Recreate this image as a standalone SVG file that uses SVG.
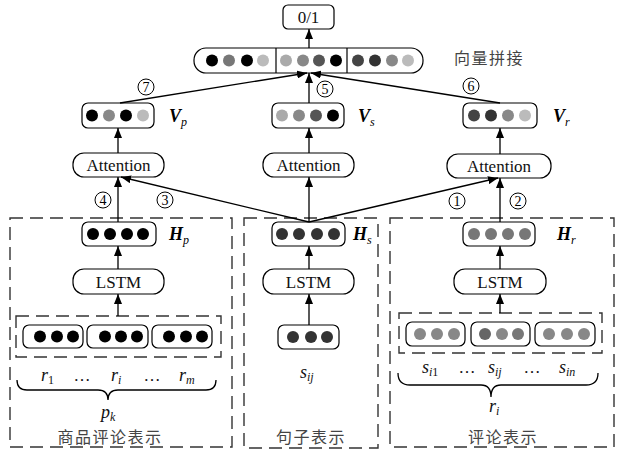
<svg xmlns="http://www.w3.org/2000/svg" width="617" height="455" viewBox="0 0 617 455">
  <style>
    .box { fill: #fff; stroke: #000; stroke-width: 1.2; }
    .dash { fill: none; stroke: #333; stroke-width: 1.4; stroke-dasharray: 13 7; }
    .lbl { font-family: "Liberation Serif", serif; font-size: 17px; fill: #111; text-anchor: middle; }
    .num { font-family: "Liberation Serif", serif; font-size: 14px; fill: #000; text-anchor: middle; }
    .var { font-family: "Liberation Serif", serif; font-size: 18px; font-style: italic; fill: #111; }
    .vec { font-family: "Liberation Serif", serif; font-size: 18px; font-style: italic; font-weight: bold; fill: #000; }
    .cn { font-family: "Noto Sans CJK SC", sans-serif; font-size: 16px; fill: #444; text-anchor: middle; letter-spacing: 1.5px; }
    .conn line { stroke: #000; stroke-width: 1.3; marker-end: url(#arr); }
    .ring { fill: #fff; stroke: #000; stroke-width: 1; }
    .brace { fill: none; stroke: #000; stroke-width: 1.3; }
  </style>
  <defs>
    <marker id="arr" viewBox="0 0 10 8" refX="10" refY="4" markerWidth="10" markerHeight="8" markerUnits="userSpaceOnUse" orient="auto">
      <path d="M0,0 L10,4 L0,8 Z" fill="#000"/>
    </marker>
  </defs>

  <!-- output -->
  <g id="output">
    <rect class="box" x="283" y="5" width="51" height="24" rx="5"/>
    <text class="lbl" x="308.5" y="23">0/1</text>
  </g>

  <!-- concatenated vector -->
  <g id="concat">
    <rect class="box" x="194" y="48" width="229" height="25" rx="12"/>
    <line x1="276" y1="48" x2="276" y2="73" stroke="#000" stroke-width="1.2"/>
    <line x1="347" y1="48" x2="347" y2="73" stroke="#000" stroke-width="1.2"/>
    <circle cx="212" cy="60.5" r="6" fill="#000"/>
    <circle cx="229" cy="60.5" r="6" fill="#777"/>
    <circle cx="247" cy="60.5" r="6" fill="#000"/>
    <circle cx="263" cy="60.5" r="6" fill="#bbb"/>
    <circle cx="286" cy="60.5" r="6" fill="#aaa"/>
    <circle cx="303" cy="60.5" r="6" fill="#888"/>
    <circle cx="319" cy="60.5" r="6" fill="#555"/>
    <circle cx="336" cy="60.5" r="6" fill="#000"/>
    <circle cx="358" cy="60.5" r="6" fill="#444"/>
    <circle cx="375" cy="60.5" r="6" fill="#333"/>
    <circle cx="392" cy="60.5" r="6" fill="#888"/>
    <circle cx="408" cy="60.5" r="6" fill="#bbb"/>
    <text class="cn" x="489" y="64">向量拼接</text>
  </g>

  <!-- attention vectors -->
  <g id="vp">
    <rect class="box" x="82" y="103" width="72" height="25" rx="6"/>
    <circle cx="92" cy="115.5" r="6" fill="#000"/>
    <circle cx="109" cy="115.5" r="6" fill="#888"/>
    <circle cx="126" cy="115.5" r="6" fill="#000"/>
    <circle cx="143" cy="115.5" r="6" fill="#bbb"/>
    <text class="vec" x="169" y="122">V<tspan font-size="12" font-weight="normal" dy="4">p</tspan></text>
  </g>
  <g id="vs">
    <rect class="box" x="272" y="103" width="72" height="25" rx="6"/>
    <circle cx="282" cy="115.5" r="6" fill="#aaa"/>
    <circle cx="299" cy="115.5" r="6" fill="#888"/>
    <circle cx="316" cy="115.5" r="6" fill="#555"/>
    <circle cx="333" cy="115.5" r="6" fill="#000"/>
    <text class="vec" x="358" y="122">V<tspan font-size="12" font-weight="normal" dy="4">s</tspan></text>
  </g>
  <g id="vr">
    <rect class="box" x="463" y="103" width="74" height="25" rx="6"/>
    <circle cx="474" cy="115.5" r="6" fill="#444"/>
    <circle cx="491" cy="115.5" r="6" fill="#333"/>
    <circle cx="508" cy="115.5" r="6" fill="#888"/>
    <circle cx="525" cy="115.5" r="6" fill="#bbb"/>
    <text class="vec" x="553" y="122">V<tspan font-size="12" font-weight="normal" dy="4">r</tspan></text>
  </g>

  <!-- attention layers -->
  <g id="att-p">
    <rect class="box" x="73" y="153" width="91" height="24" rx="11"/>
    <text class="lbl" x="118.5" y="171">Attention</text>
  </g>
  <g id="att-s">
    <rect class="box" x="263" y="153" width="91" height="24" rx="11"/>
    <text class="lbl" x="308.5" y="171">Attention</text>
  </g>
  <g id="att-r">
    <rect class="box" x="447" y="154" width="104" height="24" rx="11"/>
    <text class="lbl" x="499" y="172">Attention</text>
  </g>

  <!-- product review representation -->
  <g id="product">
    <rect class="dash" x="10" y="218" width="222" height="229"/>
    <rect class="box" x="82" y="222" width="74" height="24" rx="6"/>
    <circle cx="93" cy="234" r="6" fill="#000"/>
    <circle cx="110" cy="234" r="6" fill="#000"/>
    <circle cx="127" cy="234" r="6" fill="#000"/>
    <circle cx="143" cy="234" r="6" fill="#000"/>
    <text class="vec" x="169" y="240">H<tspan font-size="12" font-weight="normal" dy="4">p</tspan></text>
    <rect class="box" x="73" y="269" width="91" height="25" rx="11"/>
    <text class="lbl" x="118.5" y="288">LSTM</text>
    <rect class="dash" x="16" y="316" width="205" height="41"/>
    <rect class="box" x="23" y="325" width="60" height="23" rx="6"/>
    <rect class="box" x="87" y="325" width="61" height="23" rx="6"/>
    <rect class="box" x="152" y="325" width="60" height="23" rx="6"/>
    <g fill="#000">
      <circle cx="40" cy="336.5" r="6"/>
      <circle cx="57" cy="336.5" r="6"/>
      <circle cx="73" cy="336.5" r="6"/>
      <circle cx="105" cy="336.5" r="6"/>
      <circle cx="121" cy="336.5" r="6"/>
      <circle cx="137" cy="336.5" r="6"/>
      <circle cx="169" cy="336.5" r="6"/>
      <circle cx="186" cy="336.5" r="6"/>
      <circle cx="202" cy="336.5" r="6"/>
    </g>
    <text class="var" x="41" y="381">r<tspan font-style="normal" font-size="12" dy="3">1</tspan></text>
    <text class="lbl" x="82" y="381" font-size="13">…</text>
    <text class="var" x="111" y="381">r<tspan font-size="12" dy="3">i</tspan></text>
    <text class="lbl" x="152" y="381" font-size="13">…</text>
    <text class="var" x="179" y="381">r<tspan font-size="12" dy="3">m</tspan></text>
    <path class="brace" d="M17,380 Q17,390 27,390 L98,390 Q108,390 108,400 Q108,390 118,390 L206,390 Q216,390 216,380"/>
    <text class="var" x="101" y="418">p<tspan font-size="12" dy="3">k</tspan></text>
    <text class="cn" x="110" y="443">商品评论表示</text>
  </g>

  <!-- sentence representation -->
  <g id="sentence">
    <rect class="dash" x="244" y="218" width="134" height="230"/>
    <rect class="box" x="272" y="222" width="73" height="24" rx="6"/>
    <circle cx="282" cy="234" r="6" fill="#333"/>
    <circle cx="299" cy="234" r="6" fill="#333"/>
    <circle cx="317" cy="234" r="6" fill="#333"/>
    <circle cx="334" cy="234" r="6" fill="#333"/>
    <text class="vec" x="353" y="240">H<tspan font-size="12" font-weight="normal" dy="4">s</tspan></text>
    <rect class="box" x="263" y="269" width="91" height="25" rx="11"/>
    <text class="lbl" x="308.5" y="288">LSTM</text>
    <rect class="box" x="278" y="325" width="61" height="24" rx="6"/>
    <circle cx="293" cy="337" r="6" fill="#333"/>
    <circle cx="311" cy="337" r="6" fill="#333"/>
    <circle cx="327" cy="337" r="6" fill="#333"/>
    <text class="var" x="300" y="378">s<tspan font-size="12" dy="3">ij</tspan></text>
    <text class="cn" x="311" y="443">句子表示</text>
  </g>

  <!-- review representation -->
  <g id="review">
    <rect class="dash" x="390" y="218" width="224" height="229"/>
    <rect class="box" x="463" y="222" width="72" height="24" rx="6"/>
    <circle cx="474" cy="234" r="6" fill="#777"/>
    <circle cx="491" cy="234" r="6" fill="#777"/>
    <circle cx="508" cy="234" r="6" fill="#777"/>
    <circle cx="525" cy="234" r="6" fill="#777"/>
    <text class="vec" x="557" y="240">H<tspan font-size="12" font-weight="normal" dy="4">r</tspan></text>
    <rect class="box" x="454" y="269" width="92" height="25" rx="11"/>
    <text class="lbl" x="500" y="288">LSTM</text>
    <rect class="dash" x="399" y="313" width="203" height="40"/>
    <rect class="box" x="406" y="322" width="59" height="24" rx="6"/>
    <rect class="box" x="471" y="322" width="59" height="24" rx="6"/>
    <rect class="box" x="535" y="322" width="60" height="24" rx="6"/>
    <circle cx="420" cy="334" r="6" fill="#888"/>
    <circle cx="437" cy="334" r="6" fill="#888"/>
    <circle cx="454" cy="334" r="6" fill="#888"/>
    <circle cx="485" cy="334" r="6" fill="#666"/>
    <circle cx="502" cy="334" r="6" fill="#888"/>
    <circle cx="518" cy="334" r="6" fill="#777"/>
    <circle cx="549" cy="334" r="6" fill="#888"/>
    <circle cx="567" cy="334" r="6" fill="#888"/>
    <circle cx="584" cy="334" r="6" fill="#888"/>
    <text class="var" x="422" y="373">s<tspan font-size="12" dy="3">i</tspan><tspan font-style="normal" font-size="12">1</tspan></text>
    <text class="lbl" x="467" y="373" font-size="13">…</text>
    <text class="var" x="488" y="373">s<tspan font-size="12" dy="3">ij</tspan></text>
    <text class="lbl" x="532" y="373" font-size="13">…</text>
    <text class="var" x="559" y="373">s<tspan font-size="12" dy="3">in</tspan></text>
    <path class="brace" d="M398,373 Q398,385 410,385 L481,385 Q491,385 491,397 Q491,385 501,385 L586,385 Q598,385 598,373"/>
    <text class="var" x="489" y="412">r<tspan font-size="12" dy="3">i</tspan></text>
    <text class="cn" x="503" y="443">评论表示</text>
  </g>

  <!-- connectors -->
  <g id="connectors" class="conn">
    <line x1="309" y1="48" x2="309" y2="29"/>
    <line x1="120" y1="103" x2="307" y2="73"/>
    <line x1="309" y1="103" x2="309" y2="73"/>
    <line x1="500" y1="103" x2="311" y2="73"/>
    <line x1="118" y1="153" x2="118" y2="128"/>
    <line x1="309" y1="153" x2="309" y2="128"/>
    <line x1="500" y1="154" x2="500" y2="128"/>
    <line x1="118" y1="222" x2="118" y2="177"/>
    <line x1="309" y1="222" x2="121" y2="177"/>
    <line x1="309" y1="222" x2="309" y2="177"/>
    <line x1="309" y1="222" x2="498" y2="178"/>
    <line x1="500" y1="222" x2="500" y2="178"/>
    <line x1="118" y1="269" x2="118" y2="246"/>
    <line x1="309" y1="269" x2="309" y2="246"/>
    <line x1="500" y1="269" x2="500" y2="246"/>
    <line x1="118" y1="316" x2="118" y2="294"/>
    <line x1="309" y1="325" x2="309" y2="294"/>
    <line x1="500" y1="313" x2="500" y2="294"/>
  </g>

  <!-- step numbers -->
  <g id="steps">
    <circle class="ring" cx="146" cy="87" r="8"/><text class="num" x="146" y="92">7</text>
    <circle class="ring" cx="325" cy="89" r="8"/><text class="num" x="325" y="94">5</text>
    <circle class="ring" cx="471" cy="86" r="8"/><text class="num" x="471" y="91">6</text>
    <circle class="ring" cx="103" cy="200" r="8"/><text class="num" x="103" y="205">4</text>
    <circle class="ring" cx="165" cy="200" r="8"/><text class="num" x="165" y="205">3</text>
    <circle class="ring" cx="457" cy="201" r="8"/><text class="num" x="457" y="206">1</text>
    <circle class="ring" cx="518" cy="201" r="8"/><text class="num" x="518" y="206">2</text>
  </g>
</svg>
